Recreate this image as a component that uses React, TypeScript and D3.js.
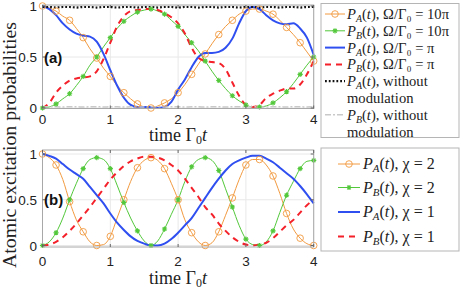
import React from 'react';
import * as d3 from 'd3';

// time samples, shared by every curve
const TIME = [0, 0.1, 0.2, 0.3, 0.4, 0.5, 0.6, 0.7, 0.8, 0.9, 1.0, 1.1, 1.2, 1.3, 1.4, 1.5, 1.6, 1.7, 1.8, 1.9, 2.0,
  2.1, 2.2, 2.3, 2.4, 2.5, 2.6, 2.7, 2.8, 2.9, 3.0, 3.1, 3.2, 3.3, 3.4, 3.5, 3.6, 3.7, 3.8, 3.9, 4.0];

// panel (a)
const A_PA_10PI = [1.0, 0.98, 0.95, 0.9, 0.86, 0.78, 0.69, 0.58, 0.49, 0.39, 0.31, 0.22, 0.15, 0.09, 0.04, 0.01, 0.0, 0.02, 0.05, 0.09, 0.15,
  0.23, 0.33, 0.43, 0.53, 0.63, 0.72, 0.8, 0.86, 0.92, 0.95, 0.97, 0.97, 0.95, 0.92, 0.86, 0.79, 0.72, 0.64, 0.55, 0.46];
const A_PB_10PI = [0.0, 0.01, 0.04, 0.09, 0.14, 0.22, 0.31, 0.42, 0.5, 0.6, 0.69, 0.78, 0.85, 0.9, 0.94, 0.96, 0.97, 0.95, 0.92, 0.86, 0.8,
  0.72, 0.64, 0.56, 0.46, 0.36, 0.27, 0.19, 0.12, 0.07, 0.03, 0.01, 0.01, 0.02, 0.05, 0.1, 0.16, 0.24, 0.33, 0.42, 0.5];
const A_PA_PI = [1.0, 0.97, 0.91, 0.83, 0.77, 0.73, 0.71, 0.7, 0.65, 0.53, 0.37, 0.22, 0.1, 0.03, 0.01, 0.01, 0.01, 0.0, 0.01, 0.06, 0.18,
  0.28, 0.4, 0.5, 0.54, 0.54, 0.55, 0.59, 0.68, 0.83, 0.95, 0.99, 0.97, 0.91, 0.86, 0.83, 0.82, 0.83, 0.78, 0.69, 0.52];
const A_PB_PI = [0.0, 0.05, 0.15, 0.22, 0.27, 0.29, 0.3, 0.31, 0.36, 0.48, 0.64, 0.8, 0.9, 0.95, 0.96, 0.97, 0.97, 0.96, 0.93, 0.89, 0.83,
  0.73, 0.59, 0.49, 0.46, 0.45, 0.44, 0.38, 0.25, 0.12, 0.03, 0.01, 0.03, 0.1, 0.14, 0.17, 0.19, 0.19, 0.23, 0.33, 0.46];
const A_PA_NOMOD = [0.99, 0.99, 0.985, 0.99, 0.99, 0.985, 0.99, 0.99, 0.985, 0.99, 0.99, 0.985, 0.99, 0.99, 0.985, 0.99, 0.99, 0.985, 0.99, 0.99, 0.985,
  0.99, 0.99, 0.985, 0.99, 0.99, 0.985, 0.99, 0.99, 0.985, 0.99, 0.99, 0.985, 0.99, 0.99, 0.985, 0.99, 0.99, 0.985, 0.99, 0.99];
const A_PB_NOMOD = [0.01, 0.012, 0.012, 0.01, 0.012, 0.012, 0.01, 0.012, 0.012, 0.01, 0.012, 0.012, 0.01, 0.012, 0.012, 0.01, 0.012, 0.012, 0.01, 0.012, 0.012,
  0.01, 0.012, 0.012, 0.01, 0.012, 0.012, 0.01, 0.012, 0.012, 0.01, 0.012, 0.012, 0.01, 0.012, 0.012, 0.01, 0.012, 0.012, 0.01, 0.012];

// panel (b)
const B_PA_CHI2 = [1.0, 0.96, 0.88, 0.72, 0.48, 0.28, 0.15, 0.04, 0.0, 0.01, 0.1, 0.3, 0.5, 0.7, 0.85, 0.93, 0.96, 0.93, 0.84, 0.68, 0.5,
  0.28, 0.14, 0.04, 0.0, 0.03, 0.15, 0.33, 0.52, 0.72, 0.88, 0.94, 0.94, 0.88, 0.76, 0.57, 0.35, 0.18, 0.08, 0.02, 0.0];
const B_PB_CHI2 = [0.0, 0.04, 0.14, 0.3, 0.5, 0.68, 0.84, 0.94, 0.96, 0.94, 0.84, 0.66, 0.47, 0.3, 0.16, 0.05, 0.0, 0.05, 0.18, 0.34, 0.5,
  0.7, 0.86, 0.94, 0.96, 0.93, 0.82, 0.62, 0.42, 0.22, 0.07, 0.01, 0.0, 0.04, 0.16, 0.36, 0.55, 0.7, 0.84, 0.92, 0.93];
const B_PA_CHI1 = [1.0, 0.98, 0.95, 0.89, 0.83, 0.78, 0.73, 0.64, 0.55, 0.46, 0.35, 0.25, 0.17, 0.1, 0.05, 0.02, 0.0, 0.0, 0.02, 0.07, 0.14,
  0.22, 0.3, 0.41, 0.52, 0.63, 0.73, 0.82, 0.89, 0.93, 0.96, 0.98, 0.98, 0.95, 0.91, 0.85, 0.79, 0.73, 0.65, 0.56, 0.46];
const B_PB_CHI1 = [0.0, 0.01, 0.04, 0.09, 0.16, 0.24, 0.33, 0.42, 0.52, 0.62, 0.72, 0.8, 0.87, 0.92, 0.95, 0.97, 0.97, 0.96, 0.93, 0.88, 0.82,
  0.73, 0.63, 0.53, 0.42, 0.34, 0.24, 0.16, 0.09, 0.04, 0.01, 0.0, 0.01, 0.03, 0.08, 0.15, 0.22, 0.28, 0.36, 0.44, 0.5];

const X_TICKS = [0, 1, 2, 3, 4];
const Y_TICKS = [0, 0.5, 1];
const Y_TICK_LABELS = ['0', '0.5', '1'];

const ORANGE = '#f29a3f';
const GREEN = '#52c83a';
const BLUE = '#2f4ff0';
const RED = '#f4202a';

const SERIF = '"Liberation Serif", "Times New Roman", serif';
const SANS = '"Liberation Sans", Arial, sans-serif';

const x = d3.scaleLinear().domain([0, 4]).range([42.5, 313.7]);

type Series = {
  values: number[];
  color: string;
  width: number;
  dash?: string;
  marker?: 'circle' | 'star';
  sub: string;
  rest: string;
  rest2?: string;
};

const panelA: Series[] = [
  { values: A_PA_10PI, color: ORANGE, width: 1, marker: 'circle', sub: 'A', rest: ', Ω/Γ₀ = 10π' },
  { values: A_PB_10PI, color: GREEN, width: 1, marker: 'star', sub: 'B', rest: ', Ω/Γ₀ = 10π' },
  { values: A_PA_PI, color: BLUE, width: 2, sub: 'A', rest: ', Ω/Γ₀ = π' },
  { values: A_PB_PI, color: RED, width: 2, dash: '6,5', sub: 'B', rest: ', Ω/Γ₀ = π' },
  { values: A_PA_NOMOD, color: '#111', width: 2.2, dash: '1.8,2', sub: 'A', rest: ', without', rest2: 'modulation' },
  { values: A_PB_NOMOD, color: '#c9c9c9', width: 1.5, dash: '6,2,2,2', sub: 'B', rest: ', without', rest2: 'modulation' },
];

const panelB: Series[] = [
  { values: B_PA_CHI2, color: ORANGE, width: 1, marker: 'circle', sub: 'A', rest: ', χ = 2' },
  { values: B_PB_CHI2, color: GREEN, width: 1, marker: 'star', sub: 'B', rest: ', χ = 2' },
  { values: B_PA_CHI1, color: BLUE, width: 2, sub: 'A', rest: ', χ = 1' },
  { values: B_PB_CHI1, color: RED, width: 2, dash: '6,5', sub: 'B', rest: ', χ = 1' },
];

function Marker({ kind, cx, cy, color }: { kind: string; cx: number; cy: number; color: string }) {
  if (kind === 'circle') {
    return <circle cx={cx} cy={cy} r={3.3} fill="none" stroke={color} strokeWidth={0.9} />;
  }
  const r = 2.6;
  const d = `M${cx - r},${cy}L${cx + r},${cy}M${cx},${cy - r}L${cx},${cy + r}` +
    `M${cx - r * 0.7},${cy - r * 0.7}L${cx + r * 0.7},${cy + r * 0.7}M${cx - r * 0.7},${cy + r * 0.7}L${cx + r * 0.7},${cy - r * 0.7}`;
  return <path d={d} stroke={color} strokeWidth={1.1} fill="none" />;
}

function Label({ s, x0, y0, size }: { s: Series; x0: number; y0: number; size: number }) {
  return (
    <g fontFamily={SERIF} fontSize={size} fill="#222">
      <text x={x0} y={y0 + 5}>
        <tspan fontStyle="italic">P</tspan>
        <tspan fontStyle="italic" fontSize={size * 0.68} dy={3}>{s.sub}</tspan>
        <tspan dy={-3}>(</tspan>
        <tspan fontStyle="italic">t</tspan>
        <tspan>){s.rest}</tspan>
      </text>
      {s.rest2 && <text x={x0} y={y0 + 5 + 16.8}>{s.rest2}</text>}
    </g>
  );
}

type Legend = { x: number; y: number; w: number; h: number; rows: number[]; lx0: number; lx1: number; tx: number; size: number };

function Panel({ series, yTop, yBottom, y0, y1, tag, legend, tickY, labelY }: {
  series: Series[]; yTop: number; yBottom: number; y0: number; y1: number; tag: string;
  legend: Legend; tickY: number; labelY: number;
}) {
  const y = d3.scaleLinear().domain([0, 1]).range([y0, y1]);
  const line = d3.line<number>().x((_, i) => x(TIME[i])).y((v) => y(v)).curve(d3.curveMonotoneX);
  const [xl, xr] = x.range();
  return (
    <g>
      {/* grid */}
      {X_TICKS.map((t) => (
        <line key={'gx' + t} x1={x(t)} x2={x(t)} y1={yTop} y2={yBottom} stroke="#e8e8e8" strokeWidth={1} />
      ))}
      {Y_TICKS.map((t) => (
        <line key={'gy' + t} x1={xl} x2={xr} y1={y(t)} y2={y(t)} stroke="#e8e8e8" strokeWidth={1} />
      ))}
      {/* curves */}
      {series.map((s, k) => (
        <path key={'c' + k} d={line(s.values) || ''} fill="none" stroke={s.color} strokeWidth={s.width}
          strokeDasharray={s.dash} />
      ))}
      {series.map((s, k) =>
        s.marker ? (
          <g key={'m' + k}>
            {s.values.map((v, i) =>
              i % 2 === 0 ? <Marker key={i} kind={s.marker!} cx={x(TIME[i])} cy={y(v)} color={s.color} /> : null
            )}
          </g>
        ) : null
      )}
      {/* box */}
      <rect x={xl} y={yTop} width={xr - xl} height={yBottom - yTop} fill="none" stroke="#a8a8a8" strokeWidth={1} />
      {X_TICKS.map((t) => (
        <g key={'tx' + t}>
          <line x1={x(t)} x2={x(t)} y1={yBottom} y2={yBottom - 3} stroke="#666" />
          <line x1={x(t)} x2={x(t)} y1={yTop} y2={yTop + 3} stroke="#666" />
          <text x={x(t)} y={tickY} textAnchor="middle" fontFamily={SANS} fontSize={13.5} fill="#222">{t}</text>
        </g>
      ))}
      {Y_TICKS.map((t, i) => (
        <g key={'ty' + t}>
          <line x1={xl} x2={xl + 3} y1={y(t)} y2={y(t)} stroke="#666" />
          <line x1={xr} x2={xr - 3} y1={y(t)} y2={y(t)} stroke="#666" />
          <text x={37} y={y(t) + 5} textAnchor="end" fontFamily={SANS} fontSize={13.5} fill="#222">{Y_TICK_LABELS[i]}</text>
        </g>
      ))}
      <text x={44} y={y(0.5) + 5.5} fontFamily={SANS} fontWeight="bold" fontSize={15} fill="#111">{tag}</text>
      <text x={178} y={labelY} textAnchor="middle" fontFamily={SERIF} fontSize={18} fill="#222">
        time Γ<tspan fontSize={12} dy={3}>0</tspan><tspan dy={-3} fontStyle="italic">t</tspan>
      </text>
      {/* legend */}
      <rect x={legend.x} y={legend.y} width={legend.w} height={legend.h} fill="#fff" stroke="#b5b5b5" strokeWidth={1} />
      {series.map((s, k) => {
        const ry = legend.rows[k];
        return (
          <g key={'l' + k}>
            <line x1={legend.lx0} x2={legend.lx1} y1={ry} y2={ry} stroke={s.color} strokeWidth={s.width}
              strokeDasharray={s.dash} />
            {s.marker && <Marker kind={s.marker} cx={(legend.lx0 + legend.lx1) / 2} cy={ry} color={s.color} />}
            <Label s={s} x0={legend.tx} y0={ry} size={legend.size} />
          </g>
        );
      })}
    </g>
  );
}

export default function App() {
  return (
    <svg width={469} height={289} style={{ position: 'absolute', left: 0, top: 0, background: '#fff' }}>
      <Panel series={panelA} yTop={5} yBottom={108.5} y0={108} y1={6} tag="(a)" tickY={123.5} labelY={141}
        legend={{ x: 321, y: 3.5, w: 138, h: 134, rows: [14, 30.8, 47.6, 64.4, 81.2, 114.8], lx0: 325, lx1: 345, tx: 347, size: 14.6 }} />
      <Panel series={panelB} yTop={150} yBottom={247} y0={245.5} y1={154} tag="(b)" tickY={265.5} labelY={283.5}
        legend={{ x: 321, y: 148, w: 138, h: 103, rows: [164, 187.5, 212, 236.5], lx0: 338, lx1: 360, tx: 363, size: 16 }} />
      <text transform="translate(16,145) rotate(-90)" textAnchor="middle" fontFamily={SERIF} fontSize={18.5}
        textLength={246} lengthAdjust="spacingAndGlyphs" fill="#222">
        Atomic excitation probabilities
      </text>
    </svg>
  );
}
